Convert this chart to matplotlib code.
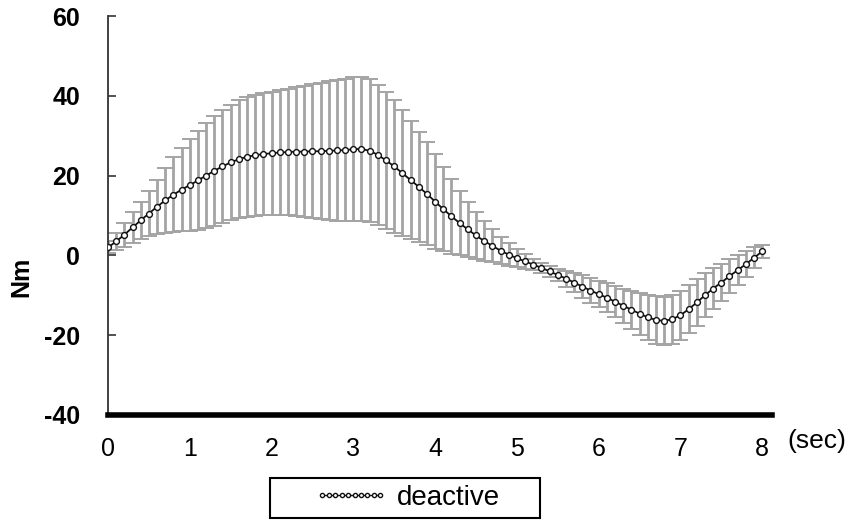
import matplotlib
matplotlib.use("Agg")
import matplotlib.pyplot as plt
from matplotlib.patches import Rectangle

plt.rcParams['font.family'] = ['Liberation Sans', 'DejaVu Sans']

# time axis (sec), 0.1 s steps
time_s = [round(i * 0.1, 1) for i in range(81)]

mean_nm = [
    2.0, 3.5, 5.2, 7.0, 8.8, 10.5, 12.2, 13.8, 15.2, 16.5,
    17.6, 18.8, 20.0, 21.2, 22.3, 23.3, 24.1, 24.7, 25.1, 25.4,
    25.6, 25.8, 25.9, 26.0, 26.0, 26.1, 26.1, 26.2, 26.3, 26.4,
    26.6, 26.7, 26.2, 25.2, 23.8, 22.3, 20.6, 18.9, 17.2, 15.4,
    13.5, 11.6, 9.8, 8.1, 6.5, 5.0, 3.6, 2.4, 1.2, 0.2,
    -0.7, -1.5, -2.3, -3.1, -4.0, -4.9, -5.8, -6.8, -7.8, -8.8,
    -9.7, -10.6, -11.6, -12.6, -13.6, -14.6, -15.5, -16.2, -16.4, -16.0,
    -15.0, -13.5, -11.8, -10.0, -8.3, -6.8, -5.2, -3.7, -2.2, -0.6,
    1.0,
]

sd_nm = [
    1.5, 2.2, 3.0, 3.8, 4.7, 5.6, 6.8, 8.2, 9.4, 10.5,
    11.5, 12.4, 13.2, 13.8, 14.2, 14.5, 14.8, 15.0, 15.2, 15.3,
    15.4, 15.6, 15.9, 16.2, 16.5, 16.8, 17.1, 17.4, 17.7, 17.9,
    18.0, 18.0, 17.9, 17.6, 17.2, 16.6, 15.8, 14.8, 13.8, 12.9,
    11.8, 10.6, 9.4, 8.0, 6.8, 5.8, 4.9, 4.1, 3.4, 2.8,
    2.2, 1.8, 1.4, 1.2, 1.3, 1.6, 2.0, 2.4, 2.8, 3.1,
    3.3, 3.6, 3.9, 4.3, 4.8, 5.3, 5.7, 5.9, 6.0, 6.1,
    6.1, 6.0, 5.8, 5.5, 5.1, 4.7, 4.3, 3.8, 3.2, 2.6,
    1.6,
]

x_ticks = [0, 1, 2, 3, 4, 5, 6, 7, 8]
y_ticks = [-40, -20, 0, 20, 40, 60]
series_label = "deactive"

W, H = 851, 520
fig = plt.figure(figsize=(W / 100, H / 100), dpi=100)
ax = fig.add_axes([108 / W, 1 - 415 / H, (772 - 108) / W, (415 - 16) / H])

ax.errorbar(time_s, mean_nm, yerr=sd_nm, fmt='none', ecolor='#a4a4a4',
            elinewidth=2.0, capsize=6, capthick=1.4, zorder=2)
ax.plot(time_s, mean_nm, color='#111111', lw=1.3, marker='o', markersize=4.2,
        markerfacecolor='white', markeredgecolor='#111111', markeredgewidth=1.0,
        label=series_label, zorder=3)

ax.set_xlim(0, 8.12)
ax.set_ylim(-40, 60)
ax.set_xticks(x_ticks)
ax.set_yticks(y_ticks)
ax.set_yticklabels([f"{v}" for v in y_ticks])

for s in ['top', 'right']:
    ax.spines[s].set_visible(False)
ax.spines['left'].set_linewidth(1.3)
ax.spines['left'].set_color('#333333')
ax.spines['bottom'].set_linewidth(4)
ax.spines['bottom'].set_color('black')

ax.tick_params(axis='y', direction='in', length=6, width=1.2, color='#333333',
               labelsize=18, pad=20)
ax.tick_params(axis='x', length=0, labelsize=18, pad=16)
for t in ax.get_yticklabels():
    t.set_fontweight('bold')

ax.set_ylabel("Nm", fontsize=18, fontweight='bold')
ax.yaxis.set_label_coords(-0.113, 0.346)

fig.text(817 / W, 1 - 441 / H, "(sec)", fontsize=19, ha='center', va='center')

# legend box
fig.patches.append(Rectangle((270 / W, 1 - 518 / H), (540 - 270) / W, 40 / H,
                             transform=fig.transFigure, fill=False,
                             edgecolor='black', linewidth=1.5))
leg = fig.legend(loc='center', bbox_to_anchor=(407 / W, 1 - 498 / H),
                 fontsize=20, numpoints=10, handlelength=2.7, handletextpad=0.3,
                 frameon=False, borderpad=0.25, borderaxespad=0)
for h in leg.legend_handles:
    h.set_markersize(3)
    h.set_linewidth(1.0)

fig.savefig("out.png", dpi=100)
